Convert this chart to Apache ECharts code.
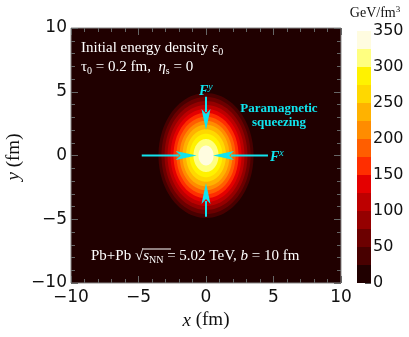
<!DOCTYPE html>
<html>
<head>
<meta charset="utf-8">
<script src="https://cdn.jsdelivr.net/npm/echarts@6/dist/echarts.min.js"></script>
<style>
  html, body { margin: 0; padding: 0; background: #fff; }
  #chart { width: 409px; height: 337px; }
</style>
</head>
<body>
<div id="chart"></div>
<script>
// contour levels of the initial energy density (GeV/fm^3)
const levels = [25, 50, 75, 100, 125, 150, 175, 200, 225, 250, 275, 300, 325];
// semi-axes of each contour (fm)
const contourRx = [3.52, 3.30, 3.07, 2.85, 2.63, 2.41, 2.19, 1.96, 1.74, 1.48, 1.22, 0.93, 0.56];
const contourRy = [4.90, 4.59, 4.27, 3.96, 3.66, 3.35, 3.04, 2.72, 2.42, 2.06, 1.70, 1.29, 0.78];
// one colour per 25 GeV/fm^3 band, 0-25 ... 325-350
const bandColors = ['#200000', '#480000', '#6c0000', '#950000', '#bd0000', '#e40000', '#ff2e00',
  '#ff5e00', '#ff8c00', '#ffb200', '#ffd800', '#fff200', '#ffff80', '#fffce0'];
const bandStep = 25;
const colorbarMax = 350;
// force arrows: [x0, y0, x1(tip), y1(tip)] in fm
const forceArrows = [
  [-4.76, 0, -0.69, 0],
  [4.59, 0, 0.52, 0],
  [0, 4.6, 0, 2.0],
  [0, -4.8, 0, -2.16]
];

const cyan = '#10e4ee';
const serif = '"Liberation Serif", "DejaVu Serif", serif';
const sans = '"DejaVu Sans", sans-serif';

function colorFor(v) {
  return bandColors[Math.min(bandColors.length - 1, Math.floor(v / bandStep))];
}
const minusFmt = v => (v < 0 ? '\u2212' + Math.abs(v) : String(v));

const contourData = levels.map((lv, i) => [contourRx[i], contourRy[i], lv]);
const bandData = bandColors.map((c, i) => [i * bandStep, (i + 1) * bandStep]);

const chart = echarts.init(document.getElementById('chart'));

const tickStyle = { lineStyle: { color: '#666', width: 1 } };
function frameAxis(extra) {
  return Object.assign({
    type: 'value', min: -10, max: 10, interval: 5,
    axisLine: { show: false, onZero: false },
    axisTick: Object.assign({ show: true, inside: true, length: 7 }, tickStyle),
    minorTick: Object.assign({ show: true, splitNumber: 5, length: 4 }, tickStyle),
    splitLine: { show: false },
    axisLabel: { show: false }
  }, extra);
}
const labelStyle = { show: true, fontFamily: sans, fontSize: 17, color: '#111', formatter: minusFmt };

const option = {
  animation: false,
  grid: [
    { left: 71, right: 68, top: 28, bottom: 54, show: true, backgroundColor: bandColors[0], borderColor: '#888', borderWidth: 1 },
    { left: 357, width: 14, top: 31, bottom: 54 }
  ],
  xAxis: [
    frameAxis({ gridIndex: 0, position: 'bottom', axisLabel: Object.assign({ margin: 6 }, labelStyle) }),
    frameAxis({ gridIndex: 0, position: 'top' }),
    { gridIndex: 1, type: 'value', min: 0, max: 1, show: false }
  ],
  yAxis: [
    frameAxis({ gridIndex: 0, position: 'left', axisLabel: Object.assign({ margin: 4 }, labelStyle) }),
    frameAxis({ gridIndex: 0, position: 'right' }),
    {
      gridIndex: 1, type: 'value', min: 0, max: colorbarMax, interval: 50, position: 'right',
      axisLine: { show: false, onZero: false },
      axisTick: { show: true, inside: true, length: 6, lineStyle: { color: '#555' } },
      minorTick: { show: true, splitNumber: 2, length: 3, lineStyle: { color: '#555' } },
      splitLine: { show: false },
      axisLabel: { fontFamily: sans, fontSize: 16, color: '#111', margin: 2 }
    }
  ],
  series: [
    {
      type: 'custom', xAxisIndex: 0, yAxisIndex: 0, data: contourData,
      renderItem(params, api) {
        const rx = api.value(0), ry = api.value(1);
        const pts = [];
        for (let k = 0; k < 96; k++) {
          const t = k / 96 * Math.PI * 2;
          pts.push(api.coord([rx * Math.cos(t), ry * Math.sin(t)]));
        }
        return { type: 'polygon', shape: { points: pts }, style: { fill: colorFor(api.value(2)) } };
      }
    },
    {
      type: 'custom', xAxisIndex: 0, yAxisIndex: 0, data: forceArrows, z: 5,
      renderItem(params, api) {
        const a = api.coord([api.value(0), api.value(1)]);
        const b = api.coord([api.value(2), api.value(3)]);
        const dx = b[0] - a[0], dy = b[1] - a[1];
        const len = Math.sqrt(dx * dx + dy * dy);
        const ux = dx / len, uy = dy / len;
        const headLen = 21, halfW = 4.5;
        const base = [b[0] - ux * headLen, b[1] - uy * headLen];
        return {
          type: 'group',
          children: [
            { type: 'line', shape: { x1: a[0], y1: a[1], x2: base[0] + ux * 3, y2: base[1] + uy * 3 },
              style: { stroke: cyan, lineWidth: 2 } },
            { type: 'polygon', shape: { points: [
                b,
                [base[0] - uy * halfW, base[1] + ux * halfW],
                [base[0] + ux * 5, base[1] + uy * 5],
                [base[0] + uy * halfW, base[1] - ux * halfW]
              ] }, style: { fill: cyan } }
          ]
        };
      }
    },
    {
      type: 'custom', xAxisIndex: 2, yAxisIndex: 2, data: bandData,
      renderItem(params, api) {
        const p0 = api.coord([0, api.value(0)]);
        const p1 = api.coord([1, api.value(1)]);
        return { type: 'rect', shape: { x: p0[0], y: p1[1], width: p1[0] - p0[0], height: p0[1] - p1[1] },
          style: { fill: bandColors[params.dataIndex] } };
      }
    }
  ],
  graphic: [
    { type: 'text', left: 81, top: 41, z: 10, style: {
      text: 'Initial energy density \u03b5{sub|0}', fill: '#fff', font: '15px ' + serif,
      rich: { sub: { fontSize: 10, fontFamily: serif, fill: '#fff', verticalAlign: 'bottom', padding: [8, 0, 0, 0] } } } },
    { type: 'text', left: 81, top: 60, z: 10, style: {
      text: '\u03c4{sub|0} = 0.2 fm,  {it|\u03b7}{sub|s} = 0', fill: '#fff', font: '15px ' + serif,
      rich: {
        sub: { fontSize: 10, fontFamily: serif, fill: '#fff', verticalAlign: 'bottom', padding: [8, 0, 0, 0] },
        it: { fontSize: 15, fontFamily: serif, fontStyle: 'italic', fill: '#fff' } } } },
    { type: 'text', left: 199, top: 82, z: 10, style: {
      text: '{it|F}{sup|y}', fill: cyan,
      rich: {
        it: { fontSize: 14, fontFamily: serif, fontStyle: 'italic', fontWeight: 'bold', fill: cyan },
        sup: { fontSize: 10, fontFamily: serif, fontStyle: 'italic', fill: cyan, verticalAlign: 'top', padding: [0, 0, 8, 0] } } } },
    { type: 'text', left: 270, top: 148, z: 10, style: {
      text: '{it|F}{sup|x}', fill: cyan,
      rich: {
        it: { fontSize: 14, fontFamily: serif, fontStyle: 'italic', fontWeight: 'bold', fill: cyan },
        sup: { fontSize: 10, fontFamily: serif, fontStyle: 'italic', fill: cyan, verticalAlign: 'top', padding: [0, 0, 8, 0] } } } },
    { type: 'text', x: 279, y: 102, z: 10, style: {
      text: 'Paramagnetic\nsqueezing', fill: cyan, font: 'bold 13px ' + serif, align: 'center', lineHeight: 14 } },
    { type: 'text', left: 91, top: 249, z: 10, style: {
      text: 'Pb+Pb \u221a{it|s}{sub|NN} = 5.02 TeV, {it|b} = 10 fm', fill: '#fff', font: '15px ' + serif,
      rich: {
        it: { fontSize: 15, fontFamily: serif, fontStyle: 'italic', fill: '#fff' },
        sub: { fontSize: 10, fontFamily: serif, fill: '#fff', verticalAlign: 'bottom', padding: [8, 0, 0, 0] } } } },
    { type: 'line', z: 10, shape: { x1: 143, y1: 249, x2: 171, y2: 249 }, style: { stroke: '#fff', lineWidth: 1 } },
    { type: 'text', x: 206, y: 311, z: 10, style: {
      text: '{it|x} (fm)', fill: '#111', font: '19px ' + serif, align: 'center',
      rich: { it: { fontSize: 19, fontFamily: serif, fontStyle: 'italic', fill: '#111' } } } },
    { type: 'text', x: 14, y: 157, rotation: Math.PI / 2, z: 10, style: {
      text: '{it|y} (fm)', fill: '#111', font: '19px ' + serif, align: 'center', verticalAlign: 'middle',
      rich: { it: { fontSize: 19, fontFamily: serif, fontStyle: 'italic', fill: '#111' } } } },
    { type: 'text', x: 375, y: 5, z: 10, style: {
      text: 'GeV/fm{sup|3}', fill: '#111', font: '14px ' + serif, align: 'center',
      rich: { sup: { fontSize: 9, fontFamily: serif, fill: '#111', verticalAlign: 'top', padding: [0, 0, 7, 0] } } } }
  ]
};

chart.setOption(option);
</script>
</body>
</html>
